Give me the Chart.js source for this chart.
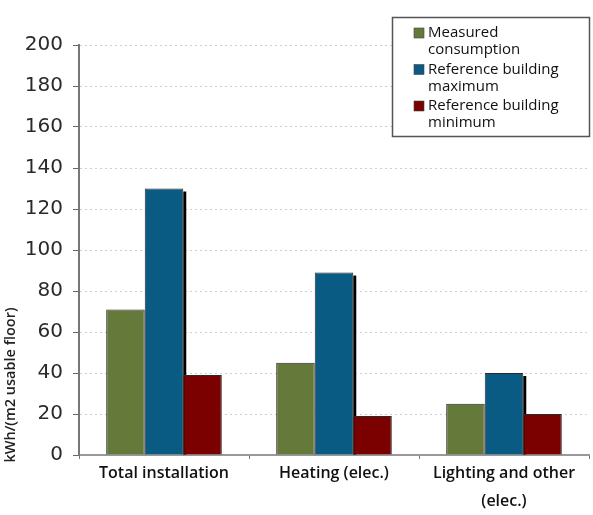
<!DOCTYPE html>
<html>
<head>
<meta charset="utf-8">
<script src="https://cdn.jsdelivr.net/npm/chart.js@4/dist/chart.umd.min.js"></script>
<style>
  html, body { margin: 0; padding: 0; background: #ffffff; }
  #wrap { width: 593px; height: 515px; position: relative; }
</style>
</head>
<body>
<div id="wrap"><canvas id="c" width="593" height="515"></canvas></div>
<script>
// Energy use per m2 of usable floor, by end use
const categories = [
  'Total installation',
  'Heating (elec.)',
  ['Lighting and other', '(elec.)']
];
const measured = [71, 45, 25];
const refMax = [130, 89, 40];
const refMin = [39, 19, 20];
const seriesNames = ['Measured consumption', 'Reference building maximum', 'Reference building minimum'];
const legendLines = [['Measured', 'consumption'], ['Reference building', 'maximum'], ['Reference building', 'minimum']];
const yTicks = [0, 20, 40, 60, 80, 100, 120, 140, 160, 180, 200];
const yTitle = 'kWh/(m2 usable floor)';

const colors = ['#657a3a', '#0a5b84', '#7b0000'];

// Dark drop edge on the right side of the tall blue bars
const barEdge = {
  id: 'barEdge',
  beforeDatasetsDraw(chart) {
    const meta = chart.getDatasetMeta(1);
    const ctx = chart.ctx;
    ctx.save();
    ctx.fillStyle = '#000000';
    meta.data.forEach(el => {
      const right = el.x + el.width / 2;
      ctx.fillRect(right, el.y + 3, 3, el.base - el.y - 3);
    });
    ctx.restore();
  }
};

// Boxed legend with wrapped labels
const boxLegend = {
  id: 'boxLegend',
  afterDraw(chart) {
    const ctx = chart.ctx;
    ctx.save();
    ctx.fillStyle = '#ffffff';
    ctx.fillRect(392, 17, 198, 120);
    ctx.strokeStyle = '#555555';
    ctx.lineWidth = 1.5;
    ctx.strokeRect(392.5, 17.5, 197, 119);
    ctx.font = '15px "Open Sans", sans-serif';
    ctx.textBaseline = 'middle';
    ctx.textAlign = 'left';
    chart.data.datasets.forEach((ds, i) => {
      const y0 = 33 + i * 36.5;
      ctx.fillStyle = ds.backgroundColor;
      ctx.fillRect(414, y0 - 5, 10, 10);
      ctx.strokeStyle = '#444';
      ctx.lineWidth = 0.6;
      ctx.strokeRect(414, y0 - 5, 10, 10);
      ctx.fillStyle = '#111111';
      legendLines[i].forEach((line, k) => {
        ctx.fillText(line, 428, y0 + k * 17);
      });
    });
    ctx.restore();
  }
};

// Rotated y-axis title
const yAxisTitle = {
  id: 'yAxisTitle',
  afterDraw(chart) {
    const ctx = chart.ctx;
    ctx.save();
    ctx.translate(11, 385);
    ctx.rotate(-Math.PI / 2);
    ctx.font = '600 14.5px "Open Sans", sans-serif';
    ctx.fillStyle = '#222222';
    ctx.textAlign = 'center';
    ctx.textBaseline = 'middle';
    ctx.fillText(yTitle, 0, 0);
    ctx.restore();
  }
};

new Chart(document.getElementById('c'), {
  type: 'bar',
  data: {
    labels: categories,
    datasets: [measured, refMax, refMin].map((vals, i) => ({
      label: seriesNames[i],
      data: vals,
      backgroundColor: colors[i],
      borderColor: '#2a2a2a',
      borderWidth: 1,
      borderSkipped: 'bottom',
      categoryPercentage: 0.68,
      barPercentage: 1.0
    }))
  },
  options: {
    responsive: false,
    animation: false,
    events: [],
    layout: { padding: { left: 0, right: 4, top: 45, bottom: 0 } },
    plugins: {
      legend: { display: false },
      tooltip: { enabled: false }
    },
    scales: {
      x: {
        offset: true,
        grid: {
          display: true,
          drawOnChartArea: false,
          drawTicks: true,
          tickLength: 4,
          tickColor: '#777777',
          offset: true
        },
        border: { display: true, color: '#999999', width: 2 },
        ticks: {
          color: '#111111',
          padding: 0,
          maxRotation: 0,
          autoSkip: false,
          font: { family: '"Open Sans", sans-serif', size: 16, weight: '600', lineHeight: 1.75 }
        },
        afterFit(scale) { scale.height = 60; }
      },
      y: {
        min: 0,
        max: 200,
        afterBuildTicks(scale) { scale.ticks = yTicks.map(v => ({ value: v })); },
        grid: {
          color: '#cfcfcf',
          lineWidth: 1,
          drawTicks: true,
          tickLength: 6,
          tickColor: '#666666',
          tickBorderDash: []
        },
        border: { display: true, color: '#777777', width: 2, dash: [2, 3] },
        ticks: {
          color: '#2a2a2a',
          padding: 10,
          font: { family: '"DejaVu Sans", sans-serif', size: 20 }
        },
        afterFit(scale) { scale.width = 79; }
      }
    }
  },
  plugins: [barEdge, boxLegend, yAxisTitle]
});
</script>
</body>
</html>
